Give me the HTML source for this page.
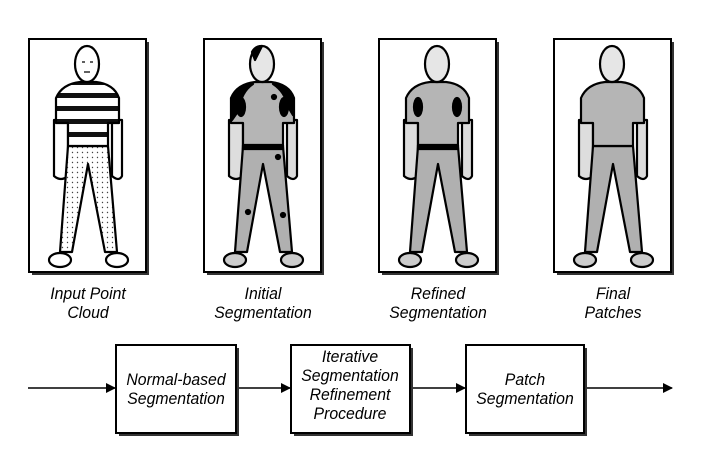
<!DOCTYPE html>
<html><head><meta charset="utf-8"><style>
html,body{margin:0;padding:0;background:#fff;width:718px;height:451px;overflow:hidden}
svg text{font-family:"Liberation Sans",Arial,sans-serif;font-style:italic;font-size:17px;fill:#000}
</style></head><body>
<svg width="718" height="451" viewBox="0 0 718 451" xmlns="http://www.w3.org/2000/svg">
<defs>
<pattern id="dots" width="5" height="5" patternUnits="userSpaceOnUse"><rect width="5" height="5" fill="#fff"/><circle cx="2.5" cy="2.5" r="0.7" fill="#444"/></pattern>
<pattern id="stripes" width="10" height="13" patternUnits="userSpaceOnUse" y="2"><rect width="10" height="13" fill="#fff"/><rect y="0" width="10" height="5" fill="#111"/></pattern>
<marker id="ah" markerWidth="10" markerHeight="10" refX="9" refY="5" orient="auto" markerUnits="userSpaceOnUse"><path d="M0,0 L10,5 L0,10 Z" fill="#000"/></marker>
</defs>

<g stroke="#000" stroke-width="2" fill="#fff">
<rect x="32" y="42" width="117" height="233" fill="#333" stroke="none"/>
<rect x="29" y="39" width="117" height="233"/>
<rect x="207" y="42" width="117" height="233" fill="#333" stroke="none"/>
<rect x="204" y="39" width="117" height="233"/>
<rect x="382" y="42" width="117" height="233" fill="#333" stroke="none"/>
<rect x="379" y="39" width="117" height="233"/>
<rect x="557" y="42" width="117" height="233" fill="#333" stroke="none"/>
<rect x="554" y="39" width="117" height="233"/>
</g>

<g stroke="#000" stroke-width="2.2" stroke-linejoin="round">
<path d="M54,120 L54,176 Q61,182 68,176 L68,120 Z" fill="#fff"/>
<path d="M112,120 L112,176 Q119,182 122,176 L122,120 Z" fill="#fff"/>
<path d="M68,146 L108,146 L117,252 L105,252 L88,164 L72,252 L60,252 Z" fill="url(#dots)"/>
<ellipse cx="60" cy="260" rx="11" ry="7" fill="#fff"/>
<ellipse cx="117" cy="260" rx="11" ry="7" fill="#fff"/>
<path d="M68,146 L68,123 L56,123 L56,98 Q62,84 80,82 L96,82 Q114,84 119,98 L119,123 L108,123 L108,146 Z" fill="url(#stripes)"/>
<ellipse cx="87" cy="64" rx="12" ry="18" fill="#fff"/>
<path d="M82,62 h3 M90,62 h3 M84,72 h6" stroke-width="1.2"/>
</g>

<g transform="translate(175,0)" stroke="#000" stroke-width="2.2" stroke-linejoin="round">
<path d="M54,120 L54,176 Q61,182 68,176 L68,120 Z" fill="#ddd"/>
<path d="M112,120 L112,176 Q119,182 122,176 L122,120 Z" fill="#ddd"/>
<path d="M68,146 L108,146 L117,252 L105,252 L88,164 L72,252 L60,252 Z" fill="#b0b0b0"/>
<ellipse cx="60" cy="260" rx="11" ry="7" fill="#ccc"/>
<ellipse cx="117" cy="260" rx="11" ry="7" fill="#ccc"/>
<path d="M68,146 L68,123 L56,123 L56,98 Q62,84 80,82 L96,82 Q114,84 119,98 L119,123 L108,123 L108,146 Z" fill="#b5b5b5"/>
<path d="M57,120 L57,98 Q62,86 78,84 Q66,92 64,110 Z M118,115 L118,98 Q112,86 98,84 Q110,92 112,105 Z" fill="#000"/>
<ellipse cx="66" cy="107" rx="4" ry="9" fill="#000"/><ellipse cx="109" cy="107" rx="4" ry="9" fill="#000"/>
<rect x="68" y="145" width="40" height="4" fill="#000"/>
<circle cx="99" cy="97" r="2" fill="#000"/><circle cx="103" cy="157" r="2" fill="#000"/><circle cx="73" cy="212" r="2" fill="#000"/><circle cx="108" cy="215" r="2" fill="#000"/>
<ellipse cx="87" cy="64" rx="12" ry="18" fill="#e6e6e6"/>
<path d="M77,52 Q80,46 87,46 L80,60 Z" fill="#000"/>
</g>
<g transform="translate(350,0)" stroke="#000" stroke-width="2.2" stroke-linejoin="round">
<path d="M54,120 L54,176 Q61,182 68,176 L68,120 Z" fill="#ddd"/>
<path d="M112,120 L112,176 Q119,182 122,176 L122,120 Z" fill="#ddd"/>
<path d="M68,146 L108,146 L117,252 L105,252 L88,164 L72,252 L60,252 Z" fill="#b0b0b0"/>
<ellipse cx="60" cy="260" rx="11" ry="7" fill="#ccc"/>
<ellipse cx="117" cy="260" rx="11" ry="7" fill="#ccc"/>
<path d="M68,146 L68,123 L56,123 L56,98 Q62,84 80,82 L96,82 Q114,84 119,98 L119,123 L108,123 L108,146 Z" fill="#b5b5b5"/>
<ellipse cx="68" cy="107" rx="4" ry="9" fill="#000"/><ellipse cx="107" cy="107" rx="4" ry="9" fill="#000"/>
<rect x="68" y="145" width="40" height="4" fill="#000"/>
<ellipse cx="87" cy="64" rx="12" ry="18" fill="#e6e6e6"/>
</g>
<g transform="translate(525,0)" stroke="#000" stroke-width="2.2" stroke-linejoin="round">
<path d="M54,120 L54,176 Q61,182 68,176 L68,120 Z" fill="#ddd"/>
<path d="M112,120 L112,176 Q119,182 122,176 L122,120 Z" fill="#ddd"/>
<path d="M68,146 L108,146 L117,252 L105,252 L88,164 L72,252 L60,252 Z" fill="#b0b0b0"/>
<ellipse cx="60" cy="260" rx="11" ry="7" fill="#ccc"/>
<ellipse cx="117" cy="260" rx="11" ry="7" fill="#ccc"/>
<path d="M68,146 L68,123 L56,123 L56,98 Q62,84 80,82 L96,82 Q114,84 119,98 L119,123 L108,123 L108,146 Z" fill="#b5b5b5"/>
<ellipse cx="87" cy="64" rx="12" ry="18" fill="#e6e6e6"/>
</g>

<g text-anchor="middle">
<text transform="translate(88,299) scale(0.93,1)">Input Point</text>
<text transform="translate(88,318) scale(0.93,1)">Cloud</text>
<text transform="translate(263,299) scale(0.93,1)">Initial</text>
<text transform="translate(263,318) scale(0.93,1)">Segmentation</text>
<text transform="translate(438,299) scale(0.93,1)">Refined</text>
<text transform="translate(438,318) scale(0.93,1)">Segmentation</text>
<text transform="translate(613,299) scale(0.93,1)">Final</text>
<text transform="translate(613,318) scale(0.93,1)">Patches</text>
</g>

<g stroke="#000" stroke-width="1.6" fill="none">
<line x1="28" y1="388" x2="115" y2="388" marker-end="url(#ah)"/>
<line x1="237" y1="388" x2="290" y2="388" marker-end="url(#ah)"/>
<line x1="411" y1="388" x2="465" y2="388" marker-end="url(#ah)"/>
<line x1="585" y1="388" x2="672" y2="388" marker-end="url(#ah)"/>
</g>
<g stroke="#000" stroke-width="2" fill="#fff">
<rect x="119" y="348" width="120" height="88" fill="#333" stroke="none"/>
<rect x="116" y="345" width="120" height="88"/>
<rect x="294" y="348" width="119" height="88" fill="#333" stroke="none"/>
<rect x="291" y="345" width="119" height="88"/>
<rect x="469" y="348" width="118" height="88" fill="#333" stroke="none"/>
<rect x="466" y="345" width="118" height="88"/>
</g>
<g text-anchor="middle">
<text transform="translate(176,385) scale(0.93,1)">Normal-based</text>
<text transform="translate(176,404) scale(0.93,1)">Segmentation</text>
<text transform="translate(350,362) scale(0.93,1)">Iterative</text>
<text transform="translate(350,381) scale(0.93,1)">Segmentation</text>
<text transform="translate(350,400) scale(0.93,1)">Refinement</text>
<text transform="translate(350,419) scale(0.93,1)">Procedure</text>
<text transform="translate(525,385) scale(0.93,1)">Patch</text>
<text transform="translate(525,404) scale(0.93,1)">Segmentation</text>
</g>
</svg>
</body></html>
